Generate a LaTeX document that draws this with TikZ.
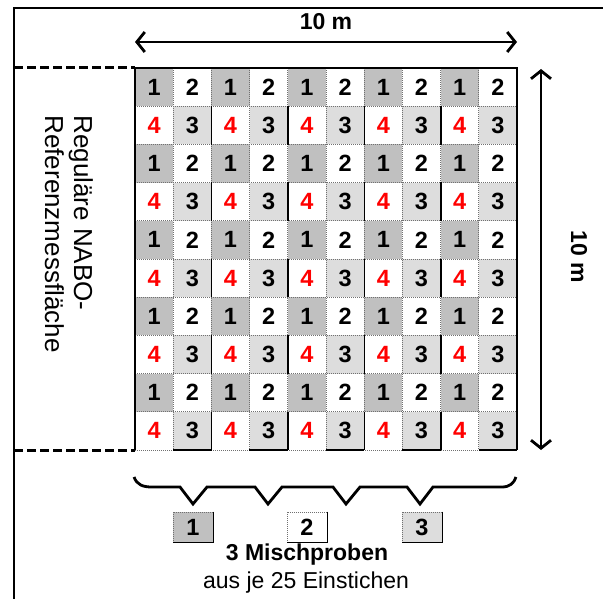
\documentclass[tikz,border=0pt]{standalone}
\usepackage{fontspec}
\setmainfont{Liberation Sans}
\usetikzlibrary{arrows.meta}
\definecolor{darkcell}{HTML}{C0C0C0}
\definecolor{lightcell}{HTML}{DDDDDD}
\definecolor{gridgray}{HTML}{707070}
\begin{document}
\begin{tikzpicture}[x=1pt,y=-1pt,
  cell/.style={minimum width=38.2pt,minimum height=38.2pt,inner sep=0pt,
    font=\fontsize{23.5}{26}\selectfont\bfseries},
  cs0/.style={fill=darkcell},
  cs1/.style={fill=white},
  cs2/.style={fill=white,text=red},
  cs3/.style={fill=lightcell},
  gridline/.style={gridgray,line width=0.9pt,dash pattern=on 1pt off 1pt},
  solidedge/.style={black,line width=1.6pt},
  border/.style={black,line width=2pt},
  dashline/.style={black,line width=3pt,dash pattern=on 9pt off 4pt},
  dimarrow/.style={black,line width=2.8pt,{Straight Barb[length=8pt,width=20pt]}-{Straight Barb[length=8pt,width=20pt]}},
  brace/.style={black,line width=2.8pt,line join=miter},
  sbox/.style={minimum width=40pt,minimum height=30pt,inner sep=0pt,
    draw=gridgray,line width=0.9pt,dash pattern=on 1pt off 1pt,
    font=\fontsize{23.5}{26}\selectfont\bfseries},
  lbl/.style={font=\fontsize{23}{26}\selectfont\bfseries},
]
\useasboundingbox (0,0) rectangle (603,599);
% outer frame
\coordinate (fBL) at (14,599);
\coordinate (fTL) at (14,8);
\coordinate (fTR) at (603,8);
\draw[black,line width=1.2pt] (fBL) -- (fTL) -- (fTR);
% cells
\foreach \r in {0,...,9}{
  \foreach \c in {0,...,9}{
    \pgfmathtruncatemacro\k{2*mod(\r,2)+mod(\c,2)}
    \ifcase\k \def\lab{1}\or \def\lab{2}\or \def\lab{4}\or \def\lab{3}\fi
    \node[cell,cs\k] (c-\r-\c) at ({135+38.2*(\c+0.5)},{68+38.2*(\r+0.5)}) {\lab};
  }
}
% grid corners
\coordinate (gTL) at (135,68);
\coordinate (gTR) at (517,68);
\coordinate (gBR) at (517,450);
\coordinate (gBL) at (135,450);
% dotted grid lines
\foreach \i in {1,...,9}{
  \draw[gridline] ({135+38.2*\i},68) -- ({135+38.2*\i},450);
  \draw[gridline] (135,{68+38.2*\i}) -- (517,{68+38.2*\i});
}
\draw[gridline] (gBL) -- (gBR);
% solid edges right of the 3-cells
\foreach \r in {1,3,...,9}{
  \foreach \c in {1,3,5,7}{
    \draw[solidedge] (c-\r-\c.north east) -- (c-\r-\c.south east);
  }
}
\foreach \c in {1,3,5,7,9}{
  \draw[solidedge] (c-9-\c.south west) -- (c-9-\c.south east);
}
\draw[border] (gBL) -- (gTL) -- (gTR) -- (gBR);
% dashed reference lines
\coordinate (dT) at (14,68);
\coordinate (dB) at (14,450);
\draw[dashline] (dT) -- (gTL);
\draw[dashline] (dB) -- (gBL);
% rotated label
\node[rotate=-90,align=left,inner sep=0pt,font=\fontsize{26}{29}\selectfont] (ref) at (69,234) {Reguläre NABO-\\Referenzmessfläche};
% top dimension
\coordinate (aL) at (135,42);
\coordinate (aR) at (517,42);
\draw[dimarrow] (aL) -- (aR);
\node[lbl] (topdim) at (326,22) {10 m};
% right dimension
\coordinate (vT) at (541,69);
\coordinate (vB) at (541,450);
\draw[dimarrow] (vT) -- (vB);
\node[lbl,rotate=-90] (rightdim) at (579,257) {10 m};
% brace
\draw[brace] (134,477) .. controls (137,485) and (143,487) .. (152,487)
  -- (180,487) -- (193,504) -- (207,487)
  -- (255,487) -- (268,504) -- (282,487)
  -- (333,487) -- (346,504) -- (360,487)
  -- (407,487) -- (420,504) -- (433,487)
  -- (502,487) .. controls (510,487) and (514,483) .. (516,477);
% sample boxes
\node[sbox,fill=darkcell] (b1) at (193,527) {1};
\node[sbox,fill=white] (b2) at (307,527) {2};
\node[sbox,fill=lightcell] (b3) at (422,527) {3};
\foreach \b in {b1,b2,b3}{
  \draw[solidedge] (\b.north east) -- (\b.south east) -- (\b.south west);
}
\node[lbl] (mix) at (307,555) {3 Mischproben};
\node[font=\fontsize{23}{26}\selectfont] (aus) at (306,583) {aus je 25 Einstichen};
\end{tikzpicture}
\end{document}
